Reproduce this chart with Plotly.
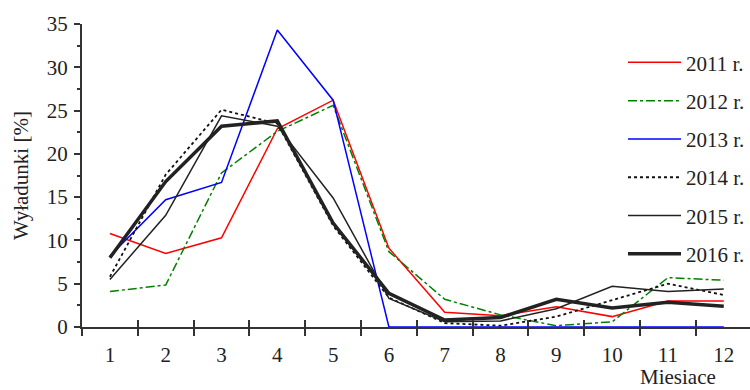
import plotly.graph_objects as go

months = [1, 2, 3, 4, 5, 6, 7, 8, 9, 10, 11, 12]
month_labels = ["1", "2", "3", "4", "5", "6", "7", "8", "9", "10", "11", "12"]

y2011 = [10.8, 8.5, 10.3, 22.9, 26.2, 9.1, 1.7, 1.3, 2.35, 1.2, 3.0, 3.0]
y2012 = [4.1, 4.85, 17.8, 22.6, 25.6, 8.7, 3.2, 1.4, 0.15, 0.6, 5.7, 5.4]
y2013 = [8.2, 14.7, 16.7, 34.3, 26.2, 0.0, 0.0, 0.0, 0.0, 0.0, 0.0, 0.0]
y2014 = [5.8, 17.6, 25.1, 23.5, 11.7, 3.4, 0.45, 0.15, 1.2, 3.1, 5.0, 3.7]
y2015 = [5.5, 12.9, 24.4, 23.2, 14.9, 3.3, 0.6, 0.7, 2.1, 4.7, 4.1, 4.4]
y2016 = [8.0, 16.8, 23.2, 23.8, 12.0, 3.9, 0.8, 1.1, 3.2, 2.2, 2.85, 2.4]

series = [
    ("2011 r.", y2011, "#ff0000", "solid", 1.5),
    ("2012 r.", y2012, "#008000", "dashdot", 1.5),
    ("2013 r.", y2013, "#0000ff", "solid", 1.5),
    ("2014 r.", y2014, "#111111", "dot", 1.8),
    ("2015 r.", y2015, "#222222", "solid", 1.5),
    ("2016 r.", y2016, "#222222", "solid", 3.5),
]

FONT = "Liberation Serif, Times New Roman, serif"
FS = 21
TXT = "#222222"

fig = go.Figure()
for i, (name, ys, color, dash, width) in enumerate(series):
    fig.add_trace(go.Scatter(
        x=months, y=ys, name=name, mode="lines",
        line=dict(color=color, dash=dash, width=width),
        legendgroup=f"g{i}",
    ))

# helper trace for the overlaid axis that draws the inner half of the crossing ticks
fig.add_trace(go.Scatter(x=[None], y=[None], xaxis="x2", showlegend=False,
                         hoverinfo="skip"))

boundaries = [m - 0.5 for m in months]

fig.update_layout(
    width=750, height=390,
    margin=dict(l=82, r=0, t=24, b=63),
    paper_bgcolor="white", plot_bgcolor="white",
    font=dict(family=FONT, size=FS, color=TXT),
    showlegend=True,
    legend=dict(
        x=1.0, y=0.94, xanchor="right", yanchor="top",
        font=dict(family=FONT, size=FS, color=TXT),
        bgcolor="rgba(0,0,0,0)", tracegroupgap=8,
        itemwidth=53,
    ),
    xaxis=dict(
        range=[0.5, 12.47], tickmode="array", tickvals=months, ticktext=month_labels,
        ticks="", showgrid=False, zeroline=False, automargin=False,
        showline=True, linecolor="#333333", linewidth=2,
        tickfont=dict(family=FONT, size=FS, color=TXT),
        minor=dict(tickmode="array", tickvals=boundaries, ticks="outside",
                   ticklen=7, tickwidth=2, tickcolor="#333333"),
        ticklabelstandoff=8,
    ),
    xaxis2=dict(
        overlaying="x", matches="x", anchor="y", side="bottom", automargin=False,
        range=[0.5, 12.47], tickmode="array", tickvals=boundaries,
        ticks="inside", ticklen=7, tickwidth=2, tickcolor="#333333",
        showticklabels=False, showgrid=False, zeroline=False, showline=False,
    ),
    yaxis=dict(
        range=[0, 35], tickmode="array", tickvals=[0, 5, 10, 15, 20, 25, 30, 35],
        ticks="outside", ticklen=6, tickwidth=2, tickcolor="#333333",
        showgrid=False, zeroline=False, automargin=False,
        showline=True, linecolor="#333333", linewidth=2,
        tickfont=dict(family=FONT, size=FS, color=TXT),
        ticklabelstandoff=2,
        minor=dict(tickmode="array", tickvals=[2.5, 7.5, 12.5, 17.5, 22.5, 27.5, 32.5],
                   ticks="outside", ticklen=3, tickwidth=2, tickcolor="#333333"),
        title=dict(text="Wyładunki [%]", font=dict(family=FONT, size=FS, color=TXT),
                   standoff=12),
    ),
    annotations=[dict(
        text="Miesiace", xref="paper", yref="paper", x=0.892, y=-0.166,
        xanchor="center", yanchor="middle", showarrow=False,
        font=dict(family=FONT, size=FS, color=TXT),
    )],
)

fig.write_html("out.html", config={"displayModeBar": False},
               post_script="document.body.style.margin='0';document.body.style.padding='0';")
